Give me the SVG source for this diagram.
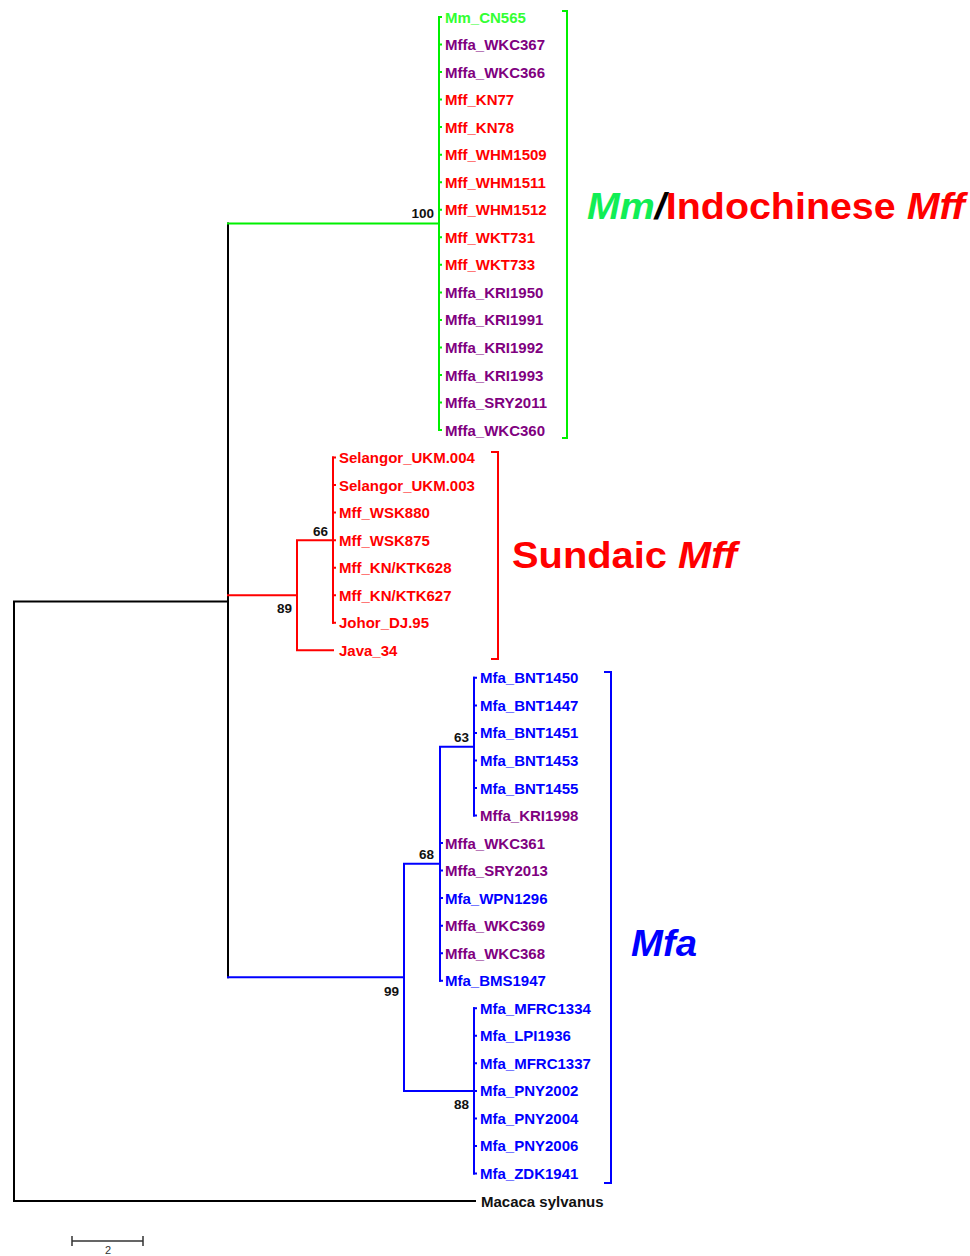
<svg xmlns="http://www.w3.org/2000/svg" width="970" height="1256" viewBox="0 0 970 1256">
<style>
.b{fill:none;stroke-width:2;stroke-linecap:square}
.k{stroke:#000}.g{stroke:#00f000}.r{stroke:#ff0000}.u{stroke:#0000ff}
.t{font-family:"Liberation Sans",Arial,sans-serif;font-weight:bold;font-size:15px}
.n{font-family:"Liberation Sans",Arial,sans-serif;font-weight:bold;font-size:13.5px;fill:#111;text-anchor:end}
.cg{fill:#33ff33}.cp{fill:#800080}.cr{fill:#ff0000}.cb{fill:#0000ff}.ck{fill:#111}
.big{font-family:"Liberation Sans",Arial,sans-serif;font-weight:bold;font-size:37px}
</style>
<rect width="970" height="1256" fill="#fff"/>
<g id="connectors">
<path class="b k" d="M228,601.5 H14 V1201 H475"/>
<path class="b k" d="M228,223.5 V977.3"/>
<path class="b g" d="M228,223.5 H439 M439,17 V430"/>
<path class="b g" d="M439,17h2M439,44.5h2M439,72.1h2M439,99.6h2M439,127.1h2M439,154.7h2M439,182.2h2M439,209.7h2M439,237.3h2M439,264.8h2M439,292.4h2M439,319.9h2M439,347.4h2M439,375h2M439,402.5h2M439,430h2"/>
<path class="b r" d="M228,595.2 H297 M297,540.2 V650.3 H333 M297,540.2 H333 M333,457.6 V622.8"/>
<path class="b r" d="M333,457.6h2M333,485.1h2M333,512.6h2M333,540.2h2M333,567.7h2M333,595.2h2M333,622.8h2"/>
<path class="b u" d="M228,977.3 H404 M404,863.7 V1090.9 M404,863.7 H440 M404,1090.9 H474 M440,746.7 V980.7 M440,746.7 H474 M474,677.8 V815.5 M474,1008.3 V1173.5"/>
<path class="b u" d="M474,677.8h2M474,705.4h2M474,732.9h2M474,760.4h2M474,788h2M474,815.5h2M440,843.1h2M440,870.6h2M440,898.1h2M440,925.7h2M440,953.2h2M440,980.7h2M474,1008.3h2M474,1035.8h2M474,1063.3h2M474,1090.9h2M474,1118.4h2M474,1145.9h2M474,1173.5h2"/>
<path class="b g" d="M563,11 H567 V438 H563"/>
<path class="b r" d="M492,452 H498 V659 H492"/>
<path class="b u" d="M605,672 H611 V1183 H605"/>
<path fill="none" stroke="#333" stroke-width="1.5" d="M72,1241 H143 M72,1236 V1246 M143,1236 V1246"/>
</g>
<g id="bootstrap">
<text class="n" x="434" y="218">100</text>
<text class="n" x="328" y="536">66</text>
<text class="n" x="292" y="613">89</text>
<text class="n" x="469" y="742">63</text>
<text class="n" x="434" y="859">68</text>
<text class="n" x="399" y="996">99</text>
<text class="n" x="469" y="1109">88</text>
</g>
<g id="leaves-mm">
<g id="n0"><text class="t cg" x="445" y="22.5">Mm_CN565</text></g>
<g id="n1"><text class="t cp" x="445" y="50">Mffa_WKC367</text></g>
<g id="n2"><text class="t cp" x="445" y="77.6">Mffa_WKC366</text></g>
<g id="n3"><text class="t cr" x="445" y="105.1">Mff_KN77</text></g>
<g id="n4"><text class="t cr" x="445" y="132.6">Mff_KN78</text></g>
<g id="n5"><text class="t cr" x="445" y="160.2">Mff_WHM1509</text></g>
<g id="n6"><text class="t cr" x="445" y="187.7">Mff_WHM1511</text></g>
<g id="n7"><text class="t cr" x="445" y="215.2">Mff_WHM1512</text></g>
<g id="n8"><text class="t cr" x="445" y="242.8">Mff_WKT731</text></g>
<g id="n9"><text class="t cr" x="445" y="270.3">Mff_WKT733</text></g>
<g id="n10"><text class="t cp" x="445" y="297.9">Mffa_KRI1950</text></g>
<g id="n11"><text class="t cp" x="445" y="325.4">Mffa_KRI1991</text></g>
<g id="n12"><text class="t cp" x="445" y="352.9">Mffa_KRI1992</text></g>
<g id="n13"><text class="t cp" x="445" y="380.5">Mffa_KRI1993</text></g>
<g id="n14"><text class="t cp" x="445" y="408">Mffa_SRY2011</text></g>
<g id="n15"><text class="t cp" x="445" y="435.5">Mffa_WKC360</text></g>
</g>
<g id="leaves-sundaic">
<g id="n16"><text class="t cr" x="339" y="463.1">Selangor_UKM.004</text></g>
<g id="n17"><text class="t cr" x="339" y="490.6">Selangor_UKM.003</text></g>
<g id="n18"><text class="t cr" x="339" y="518.1">Mff_WSK880</text></g>
<g id="n19"><text class="t cr" x="339" y="545.7">Mff_WSK875</text></g>
<g id="n20"><text class="t cr" x="339" y="573.2">Mff_KN/KTK628</text></g>
<g id="n21"><text class="t cr" x="339" y="600.7">Mff_KN/KTK627</text></g>
<g id="n22"><text class="t cr" x="339" y="628.3">Johor_DJ.95</text></g>
<g id="n23"><text class="t cr" x="339" y="655.8">Java_34</text></g>
</g>
<g id="leaves-mfa">
<g id="n24"><text class="t cb" x="480" y="683.3">Mfa_BNT1450</text></g>
<g id="n25"><text class="t cb" x="480" y="710.9">Mfa_BNT1447</text></g>
<g id="n26"><text class="t cb" x="480" y="738.4">Mfa_BNT1451</text></g>
<g id="n27"><text class="t cb" x="480" y="765.9">Mfa_BNT1453</text></g>
<g id="n28"><text class="t cb" x="480" y="793.5">Mfa_BNT1455</text></g>
<g id="n29"><text class="t cp" x="480" y="821">Mffa_KRI1998</text></g>
<g id="n30"><text class="t cp" x="445" y="848.6">Mffa_WKC361</text></g>
<g id="n31"><text class="t cp" x="445" y="876.1">Mffa_SRY2013</text></g>
<g id="n32"><text class="t cb" x="445" y="903.6">Mfa_WPN1296</text></g>
<g id="n33"><text class="t cp" x="445" y="931.2">Mffa_WKC369</text></g>
<g id="n34"><text class="t cp" x="445" y="958.7">Mffa_WKC368</text></g>
<g id="n35"><text class="t cb" x="445" y="986.2">Mfa_BMS1947</text></g>
<g id="n36"><text class="t cb" x="480" y="1013.8">Mfa_MFRC1334</text></g>
<g id="n37"><text class="t cb" x="480" y="1041.3">Mfa_LPI1936</text></g>
<g id="n38"><text class="t cb" x="480" y="1068.8">Mfa_MFRC1337</text></g>
<g id="n39"><text class="t cb" x="480" y="1096.4">Mfa_PNY2002</text></g>
<g id="n40"><text class="t cb" x="480" y="1123.9">Mfa_PNY2004</text></g>
<g id="n41"><text class="t cb" x="480" y="1151.4">Mfa_PNY2006</text></g>
<g id="n42"><text class="t cb" x="480" y="1179">Mfa_ZDK1941</text></g>
</g>
<g id="outgroup"><text class="t ck" x="481" y="1206.5">Macaca sylvanus</text></g>
<g id="clade-mm"><text class="big" x="587" y="219" textLength="378" lengthAdjust="spacingAndGlyphs"><tspan font-style="italic" fill="#11ee55">Mm</tspan><tspan font-style="italic" fill="#000">/</tspan><tspan fill="#ff0000">Indochinese </tspan><tspan font-style="italic" fill="#ff0000">Mff</tspan></text></g>
<g id="clade-sundaic"><text class="big" x="512" y="568" fill="#ff0000" textLength="225" lengthAdjust="spacingAndGlyphs">Sundaic <tspan font-style="italic">Mff</tspan></text></g>
<g id="clade-mfa"><text class="big" x="631" y="956" fill="#0000ff" font-style="italic" textLength="66" lengthAdjust="spacingAndGlyphs">Mfa</text></g>
<g id="scale"><text x="108" y="1254" font-family="Liberation Sans,Arial,sans-serif" font-size="11" fill="#333" text-anchor="middle">2</text></g>
</svg>
